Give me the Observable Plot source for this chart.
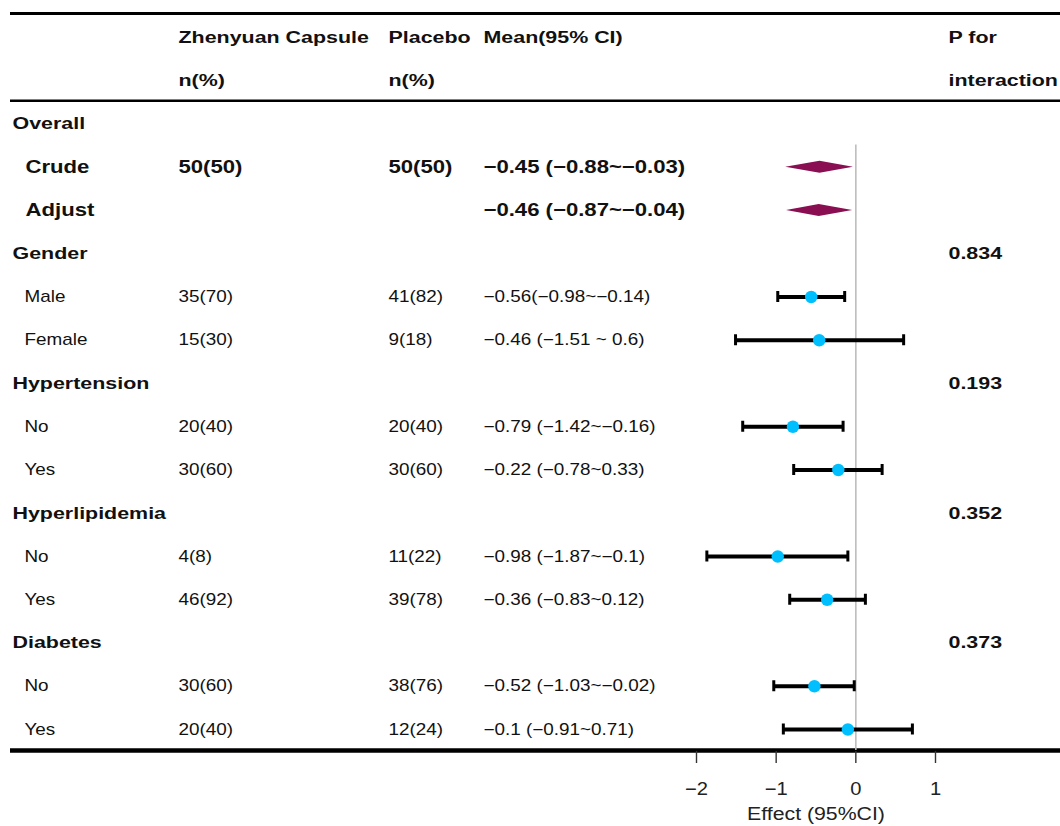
<!DOCTYPE html>
<html><head><meta charset="utf-8">
<script src="https://cdn.jsdelivr.net/npm/d3@7"></script>
<script src="https://cdn.jsdelivr.net/npm/@observablehq/plot@0.6"></script>
<style>html,body{margin:0;padding:0;background:#fff}#chart svg{display:block}</style>
</head><body><div id="chart"></div>
<script>
// ---- data ----
const headerTop = ["", "Zhenyuan Capsule", "Placebo", "Mean(95% CI)", "P for"];
const headerBottom = ["", "n(%)", "n(%)", "", "interaction"];
const labels = ["Overall","Crude","Adjust","Gender","Male","Female","Hypertension","No","Yes","Hyperlipidemia","No","Yes","Diabetes","No","Yes"];
const levels = ["group","overall","overall","group","sub","sub","group","sub","sub","group","sub","sub","group","sub","sub"];
const treatN = ["","50(50)","","","35(70)","15(30)","","20(40)","30(60)","","4(8)","46(92)","","30(60)","20(40)"];
const placeboN = ["","50(50)","","","41(82)","9(18)","","20(40)","30(60)","","11(22)","39(78)","","38(76)","12(24)"];
const meanCI = ["","−0.45 (−0.88~−0.03)","−0.46 (−0.87~−0.04)","","−0.56(−0.98~−0.14)","−0.46 (−1.51 ~ 0.6)","","−0.79 (−1.42~−0.16)","−0.22 (−0.78~0.33)","","−0.98 (−1.87~−0.1)","−0.36 (−0.83~0.12)","","−0.52 (−1.03~−0.02)","−0.1 (−0.91~0.71)"];
const means  = [null,-0.45,-0.46,null,-0.56,-0.46,null,-0.79,-0.22,null,-0.98,-0.36,null,-0.52,-0.10];
const lowers = [null,-0.88,-0.87,null,-0.98,-1.51,null,-1.42,-0.78,null,-1.87,-0.83,null,-1.03,-0.91];
const uppers = [null,-0.03,-0.04,null,-0.14, 0.60,null,-0.16, 0.33,null,-0.10, 0.12,null,-0.02, 0.71];
const pInteraction = ["","","","0.834","","","0.193","","","0.352","","","0.373","",""];
const xTicks = [-2,-1,0,1];
const xTickLabels = ["−2","−1","0","1"];
const axisTitle = "Effect (95%CI)";

// ---- layout / style ----
const W = 1060, H = 826;
const rowTop = 37, rowBottom = 729;
const headerRows = 2;
const rows = labels.map((label,i) => ({row: i + headerRows, label, level: levels[i], treat: treatN[i], placebo: placeboN[i], ci: meanCI[i], mean: means[i], lo: lowers[i], hi: uppers[i], p: pInteraction[i]}));
const lastRow = rows[rows.length-1].row;
const rowPx = (rowBottom - rowTop) / lastRow;
const dh = 6 / rowPx, cap = 5.5 / rowPx;
const headerCells = [];
[headerTop, headerBottom].forEach((arr, r) => arr.forEach((t, c) => { if (t) headerCells.push({row: r, col: c, text: t}); }));
const colDx = [2, 168, 378, 473, 938];
const ink = "#111";
const F = "'Liberation Sans', Arial, Helvetica, sans-serif";
const SIZE = {hdr: 17, big: 18, reg: 16, title: 18.5};
const STRETCH = {17: 1.26, 18: 1.23, 16: 1.18, 18.5: 1.15};

const groups = rows.filter(d => d.level === "group");
const overall = rows.filter(d => d.level === "overall");
const subs = rows.filter(d => d.level === "sub");
const diamond = overall.flatMap(d => [
  {label: d.label, x: d.lo, y1: d.row, y2: d.row},
  {label: d.label, x: d.mean, y1: d.row - dh, y2: d.row + dh},
  {label: d.label, x: d.hi, y1: d.row, y2: d.row}
]);

const txt = (data, field, dx, kind) => Plot.text(data, {
  y: "row", text: field, frameAnchor: "left", textAnchor: "start", dx,
  fill: ink,
  fontWeight: kind === "reg" ? "normal" : "bold",
  fontSize: SIZE[kind]
});

const marks = [
  Plot.ruleY([0], {dy: -24, stroke: "#000", strokeWidth: 3.2}),
  Plot.ruleY([headerRows - 1], {dy: 20, stroke: "#000", strokeWidth: 2.6}),
  Plot.ruleY([lastRow], {dy: 21, stroke: "#000", strokeWidth: 4.5}),
  Plot.ruleX([0], {y1: headerRows, y2: lastRow, dy: 21, stroke: "#bdbdbd", strokeWidth: 1.6}),
  Plot.areaY(diamond, {x: "x", y1: "y1", y2: "y2", z: "label", fill: "#8A0F52", curve: "linear"}),
  Plot.ruleY(subs, {y: "row", x1: "lo", x2: "hi", stroke: "#000", strokeWidth: 4}),
  Plot.ruleX(subs, {x: "lo", y1: d => d.row - cap, y2: d => d.row + cap, stroke: "#000", strokeWidth: 3}),
  Plot.ruleX(subs, {x: "hi", y1: d => d.row - cap, y2: d => d.row + cap, stroke: "#000", strokeWidth: 3}),
  Plot.dot(subs, {x: "mean", y: "row", r: 6.2, fill: "#00BFFF", stroke: "none"}),
  Plot.axisX(xTicks, {tickSize: 12, tickPadding: 19, fontSize: 18, stroke: "#333", strokeWidth: 1.4, fill: "#222",
    tickFormat: d => xTickLabels[xTicks.indexOf(d)], label: null}),
  Plot.text([axisTitle], {x: () => d3.mean(d3.extent(xTicks)), text: d => d, frameAnchor: "bottom", lineAnchor: "middle", dy: 63,
    fontSize: SIZE.title, fill: "#222"})
];
colDx.forEach((dx, c) => marks.push(txt(headerCells.filter(d => d.col === c), "text", dx, "hdr")));
marks.push(
  txt(groups, "label", 2, "hdr"),
  txt(groups, "p", colDx[4], "hdr"),
  txt(overall, "label", 15, "big"),
  txt(overall, "treat", colDx[1], "big"),
  txt(overall, "placebo", colDx[2], "big"),
  txt(overall, "ci", colDx[3], "big"),
  txt(subs, "label", 14, "reg"),
  txt(subs, "treat", colDx[1], "reg"),
  txt(subs, "placebo", colDx[2], "reg"),
  txt(subs, "ci", colDx[3], "reg")
);

const chart = Plot.plot({
  width: W, height: H,
  marginLeft: 10, marginRight: 0, marginTop: 0, marginBottom: H - 751,
  style: {fontFamily: F, background: "#fff", color: ink},
  x: {domain: d3.extent(xTicks), range: [696, 935]},
  y: {domain: [0, lastRow], range: [rowTop, rowBottom], axis: null},
  marks
});

function stretchText(t, s) {
  let tr = t.getAttribute("transform");
  if (!tr) {
    const x = +t.getAttribute("x") || 0, y = +t.getAttribute("y") || 0;
    t.removeAttribute("x"); t.removeAttribute("y");
    tr = `translate(${x},${y})`;
  }
  t.setAttribute("transform", tr + ` scale(${s},1)`);
}
chart.querySelectorAll('g[aria-label="text"]').forEach(g => {
  const s = STRETCH[+g.getAttribute("font-size")];
  if (s) g.querySelectorAll("text").forEach(t => stretchText(t, s));
});
chart.querySelectorAll('g[aria-label="x-axis tick label"] text').forEach(t => stretchText(t, 1.12));
document.getElementById("chart").appendChild(chart);
</script>
</body></html>
